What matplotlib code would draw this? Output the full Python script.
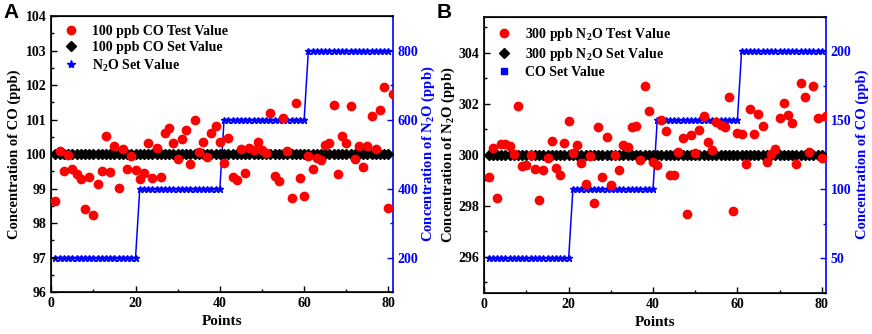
import matplotlib
matplotlib.use("Agg")
import matplotlib.pyplot as plt
from matplotlib.lines import Line2D
from matplotlib.ticker import MultipleLocator
import numpy as np

plt.rcParams['font.family'] = 'Liberation Serif'
plt.rcParams['font.weight'] = 'bold'
plt.rcParams['axes.labelweight'] = 'bold'
plt.rcParams['mathtext.fontset'] = 'custom'
plt.rcParams['mathtext.rm'] = 'Liberation Serif:bold'
plt.rcParams['mathtext.bf'] = 'Liberation Serif:bold'

# data
points = np.arange(1, 82)
set_points = np.arange(1, 81)

co_test = [98.63, 100.08, 99.50, 99.96, 99.56, 99.42, 99.27, 98.41, 99.34, 98.23,
           99.12, 99.51, 100.51, 99.48, 100.22, 99.03, 100.15, 99.56, 99.93, 99.54,
           99.27, 99.46, 100.31, 99.32, 100.18, 99.34, 100.61, 100.75, 100.32, 99.85,
           100.45, 100.71, 99.70, 100.98, 100.06, 100.35, 99.91, 100.60, 100.80, 100.35,
           99.73, 100.48, 99.33, 99.24, 100.15, 99.46, 100.17, 100.12, 100.35, 100.13,
           100.03, 101.20, 99.35, 99.23, 101.04, 100.09, 98.74, 101.47, 99.32, 98.78,
           99.95, 99.56, 99.90, 99.83, 100.25, 100.33, 101.43, 99.41, 100.53, 100.32,
           101.39, 99.86, 100.22, 99.63, 100.22, 101.10, 100.14, 101.28, 101.94, 98.43,
           101.73]
co_set = [100] * 80
n2o_set_a = [200] * 20 + [400] * 20 + [600] * 20 + [800] * 20

n2o_test = [299.11, 300.25, 298.30, 300.42, 300.43, 300.36, 300.02, 301.92, 299.57, 299.58,
            300.00, 299.45, 298.22, 299.41, 299.87, 300.55, 299.47, 299.22, 300.45, 301.33,
            300.07, 300.37, 299.66, 298.86, 299.96, 298.13, 301.07, 299.14, 300.70, 298.83,
            300.00, 299.39, 300.38, 300.32, 301.09, 301.12, 299.80, 302.70, 301.72, 299.70,
            299.58, 301.35, 300.92, 299.20, 299.20, 300.09, 300.66, 297.68, 300.78, 300.07,
            300.95, 301.51, 300.50, 300.18, 301.28, 301.16, 301.09, 302.26, 297.80, 300.87,
            300.82, 299.62, 301.78, 300.83, 301.61, 301.11, 299.71, 300.04, 300.22, 301.45,
            302.04, 301.57, 301.26, 299.62, 302.79, 302.28, 300.09, 302.71, 301.43, 299.86,
            301.51]
n2o_set = [300] * 80
co_set_b = [50] * 20 + [100] * 20 + [150] * 20 + [200] * 20

BLUE = '#0000ff'

fig = plt.figure(figsize=(8.72, 3.34), dpi=100)


def make_panel(rect, letter, test, setv, step, ylim, ylim2, yticks, ytick2,
               ylabel, ylabel2, labels, step_marker, pad_left, pad_right):
    ax = fig.add_axes(rect)
    ax2 = ax.twinx()
    ax2.plot(set_points, step, color=BLUE, lw=1.1, marker='*', ms=5, zorder=2)
    ax.set_zorder(ax2.get_zorder() + 1)
    ax.patch.set_visible(False)
    ax.plot(set_points, setv, ls='none', marker='D', ms=5, color='black', zorder=3)
    ax.plot(points, test, ls='none', marker='o', ms=6, color='#ff0000', zorder=4)

    ax.set_xlim(0, 81)
    ax.set_ylim(*ylim)
    ax2.set_ylim(*ylim2)
    ax.xaxis.set_major_locator(MultipleLocator(20))
    ax.xaxis.set_minor_locator(MultipleLocator(10))
    ax.yaxis.set_major_locator(MultipleLocator(yticks))
    ax.yaxis.set_minor_locator(MultipleLocator(yticks / 2))
    ax2.yaxis.set_major_locator(MultipleLocator(ytick2))
    ax2.yaxis.set_minor_locator(MultipleLocator(ytick2 / 2))

    ax.tick_params(which='both', direction='in', labelsize=10, width=1)
    ax.tick_params(which='major', length=4)
    ax.tick_params(which='minor', length=2.5)
    ax2.tick_params(which='both', direction='in', colors=BLUE, labelsize=10, width=1)
    ax2.tick_params(which='major', length=4)
    ax2.tick_params(which='minor', length=2.5)
    for lab in ax.get_xticklabels() + ax.get_yticklabels() + ax2.get_yticklabels():
        lab.set_fontweight('bold')
    for s in ax.spines.values():
        s.set_linewidth(1.2)
    ax2.spines['right'].set_color(BLUE)
    ax2.spines['right'].set_linewidth(1.2)
    ax.spines['right'].set_visible(False)

    ax.set_xlabel('Points', fontsize=11, fontweight='bold', labelpad=4)
    ax.set_ylabel(ylabel, fontsize=10.5, fontweight='bold', labelpad=pad_left)
    ax2.set_ylabel(ylabel2, fontsize=10.5, fontweight='bold', color=BLUE, labelpad=pad_right)

    handles = [
        Line2D([], [], ls='none', marker='o', ms=6, color='#ff0000'),
        Line2D([], [], ls='none', marker='D', ms=5, color='black'),
        Line2D([], [], ls='none', marker=step_marker, ms=6 if step_marker == '*' else 5, color=BLUE),
    ]
    ax.legend(handles, labels, loc='upper left', bbox_to_anchor=(0.0, 1.0),
              frameon=False, prop={'size': 10, 'weight': 'bold'}, handletextpad=0.7,
              handlelength=1.6, labelspacing=0.22, borderaxespad=0.25)

    fig.text(rect[0] - 0.055, 0.99, letter, fontsize=15, fontweight='bold',
             family='Liberation Sans', va='top', ha='left')
    return ax


make_panel([0.0588, 0.1257, 0.3915, 0.826], 'A', co_test, co_set, n2o_set_a,
           (96, 104), (100, 900), 1, 200,
           'Concentration of CO (ppb)', r'Concentration of N$_{\mathbf{2}}$O (ppb)',
           ['100 ppb CO Test Value', '100 ppb CO Set Value',
            r'N$_{\mathbf{2}}$O Set Value'], '*', 3, 1)

make_panel([0.5554, 0.1237, 0.3918, 0.826], 'B', n2o_test, n2o_set, co_set_b,
           (294.6, 305.4), (25, 225), 2, 50,
           r'Concentration of N$_{\mathbf{2}}$O (ppb)', 'Concentration of CO (ppb)',
           [r'300 ppb N$_{\mathbf{2}}$O Test Value', r'300 ppb N$_{\mathbf{2}}$O Set Value',
            'CO Set Value'], 's', 1, 3)

fig.savefig('out.png', dpi=100)
